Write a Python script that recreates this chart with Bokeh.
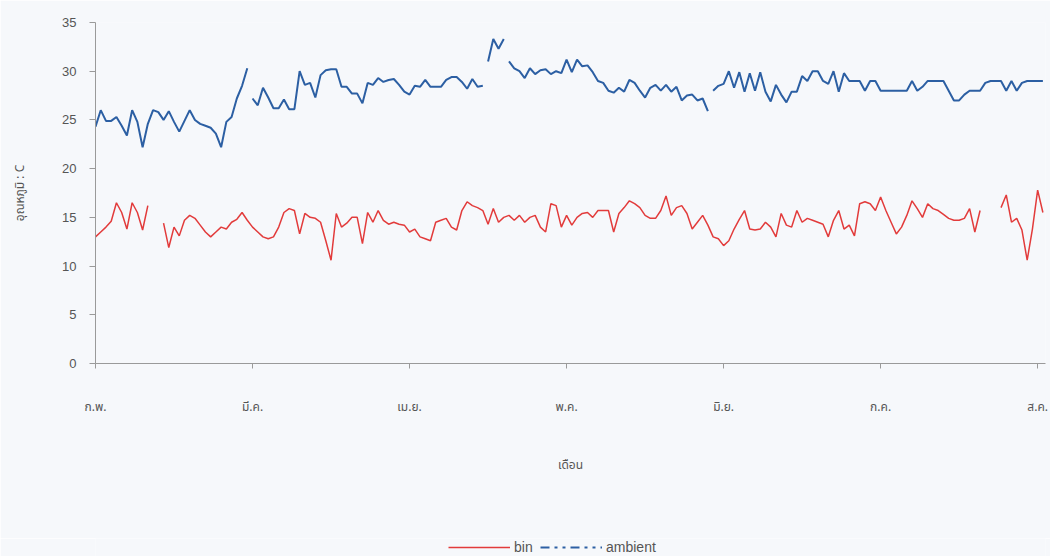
from bokeh.plotting import figure
from bokeh.models import Legend, LegendItem, FixedTicker, Range1d
from bokeh.layouts import column
from bokeh.embed import file_html
from bokeh.resources import INLINE

# ---------------- data ----------------
month_labels = ["ก.พ.", "มี.ค.", "เม.ย.", "พ.ค.", "มิ.ย.", "ก.ค.", "ส.ค."]
month_ticks = [0, 30, 60, 90, 120, 150, 180]
y_ticks = [0, 5, 10, 15, 20, 25, 30, 35]

N = float("nan")
bin_temp = [
    13.0, 13.5, 14.0, 14.6, 16.5, 15.5, 13.8, 16.5, 15.5, 13.7,
    16.2, N, N, 14.4, 11.9, 14.0, 13.1, 14.7, 15.2, 14.9,
    14.2, 13.5, 13.0, 13.5, 14.0, 13.8, 14.5, 14.8, 15.5, 14.7,
    14.0, 13.5, 13.0, 12.8, 13.0, 14.0, 15.5, 15.9, 15.7, 13.3,
    15.4, 15.0, 14.9, 14.5, 12.6, 10.6, 15.4, 14.0, 14.4, 15.0,
    15.0, 12.3, 15.5, 14.5, 15.7, 14.7, 14.3, 14.5, 14.3, 14.2,
    13.5, 13.8, 13.0, 12.8, 12.6, 14.5, 14.7, 14.9, 14.0, 13.7,
    15.7, 16.6, 16.2, 16.0, 15.7, 14.3, 15.9, 14.5, 15.0, 15.2,
    14.7, 15.2, 14.5, 15.0, 15.2, 14.0, 13.5, 16.4, 16.2, 14.0,
    15.2, 14.2, 15.0, 15.4, 15.5, 15.0, 15.7, 15.7, 15.7, 13.5,
    15.4, 16.0, 16.7, 16.4, 16.0, 15.2, 14.9, 14.9, 15.7, 17.2,
    15.2, 16.0, 16.2, 15.4, 13.8, 14.5, 15.2, 14.2, 13.0, 12.8,
    12.1, 12.6, 13.8, 14.8, 15.7, 13.8, 13.7, 13.8, 14.5, 14.0,
    13.0, 15.4, 14.2, 14.0, 15.7, 14.5, 14.9, 14.7, 14.5, 14.3,
    13.0, 14.7, 15.7, 13.8, 14.2, 13.1, 16.4, 16.6, 16.4, 15.7,
    17.1, 15.7, 14.5, 13.3, 14.0, 15.2, 16.7, 15.9, 15.0, 16.4,
    15.9, 15.7, 15.3, 14.9, 14.7, 14.7, 14.9, 15.9, 13.5, 15.7,
    N, N, N, 16.0, 17.3, 14.5, 14.9, 13.7, 10.6, 13.8,
    17.8, 15.5,
]

ambient_temp = [
    24.3, 26.0, 24.9, 24.9, 25.3, 24.4, 23.4, 26.0, 24.8, 22.2,
    24.6, 26.0, 25.8, 25.0, 25.9, 24.8, 23.8, 24.9, 26.0, 25.0,
    24.6, 24.4, 24.2, 23.6, 22.2, 24.8, 25.3, 27.2, 28.5, 30.3,
    27.2, 26.5, 28.3, 27.3, 26.2, 26.2, 27.1, 26.1, 26.1, 30.0,
    28.6, 28.8, 27.3, 29.6, 30.1, 30.2, 30.2, 28.4, 28.4, 27.7,
    27.7, 26.7, 28.8, 28.6, 29.3, 28.9, 29.1, 29.2, 28.6, 27.9,
    27.6, 28.5, 28.4, 29.1, 28.4, 28.4, 28.4, 29.1, 29.4, 29.4,
    28.9, 28.2, 29.2, 28.4, 28.5, 31.0, 33.3, 32.3, 33.3, 31.0,
    30.3, 30.0, 29.3, 30.3, 29.7, 30.1, 30.2, 29.7, 30.0, 29.8,
    31.2, 29.9, 31.2, 30.5, 30.6, 29.9, 29.0, 28.8, 28.0, 27.8,
    28.3, 27.9, 29.1, 28.8, 28.0, 27.3, 28.3, 28.6, 28.0, 28.6,
    27.9, 28.4, 27.0, 27.5, 27.6, 27.0, 27.2, 25.9, 28.0, 28.5,
    28.7, 30.0, 28.3, 29.9, 27.9, 29.8, 28.0, 29.9, 27.9, 26.9,
    28.6, 27.6, 26.8, 27.9, 27.9, 29.5, 29.0, 30.0, 30.0, 29.0,
    28.7, 30.0, 27.9, 29.8, 29.0, 29.0, 29.0, 28.0, 29.0, 29.0,
    28.0, 28.0, 28.0, 28.0, 28.0, 28.0, 29.0, 28.0, 28.4, 29.0,
    29.0, 29.0, 29.0, 28.0, 27.0, 27.0, 27.6, 28.0, 28.0, 28.0,
    28.8, 29.0, 29.0, 29.0, 28.0, 29.0, 28.0, 28.8, 29.0, 29.0,
    29.0, 29.0,
]
# where the dashed ambient line shows a break (start index of each piece)
ambient_breaks = [30, 75, 79, 118]
series_names = ["bin", "ambient"]

days = list(range(len(bin_temp)))

# ---------------- figure ----------------
BG = "#f6f8fb"
AX = "#9a9a9a"
TXT = "#555555"
FONT = "Noto Sans Thai, Noto Sans, DejaVu Sans, sans-serif"
RED = "#e23b3b"
BLUE = "#2c5fa3"
AMB_DASH = "9 5 3 5 3 5"

p = figure(width=1050, height=538, output_backend="svg", toolbar_location=None,
           x_range=Range1d(0, 181.5), y_range=Range1d(0, 35),
           min_border_left=95, min_border_right=5, min_border_top=22,
           min_border_bottom=175)
p.background_fill_color = BG
p.border_fill_color = BG
p.border_fill_alpha = 1
p.outline_line_color = None
p.grid.grid_line_color = None

# bin series
p.line(days, bin_temp, line_color=RED, line_width=1.5)

# ambient series, split into dash pieces
xs, ys = [], []
starts = [0] + ambient_breaks
ends = ambient_breaks + [len(ambient_temp)]
for s, e in zip(starts, ends):
    xs.append(days[s:e])
    ys.append(ambient_temp[s:e])
p.multi_line(xs, ys, line_color=BLUE, line_width=2)

# axes
xa = p.xaxis[0]
xa.ticker = FixedTicker(ticks=month_ticks)
xa.major_label_overrides = {t: l for t, l in zip(month_ticks, month_labels)}
xa.minor_tick_line_color = None
xa.axis_line_color = AX
xa.major_tick_line_color = AX
xa.major_tick_in = 0
xa.major_tick_out = 5
xa.major_label_standoff = 29
xa.major_label_text_font = FONT
xa.major_label_text_font_size = "12px"
xa.major_label_text_color = TXT
xa.axis_label = "เดือน"
xa.axis_label_text_font = FONT
xa.axis_label_text_font_size = "12px"
xa.axis_label_text_font_style = "normal"
xa.axis_label_text_color = TXT
xa.axis_label_standoff = 37

ya = p.yaxis[0]
ya.ticker = FixedTicker(ticks=y_ticks)
ya.minor_tick_line_color = None
ya.axis_line_color = AX
ya.major_tick_line_color = AX
ya.major_tick_in = 0
ya.major_tick_out = 6
ya.major_label_standoff = 13
ya.major_label_text_font = "Liberation Sans"
ya.major_label_text_font_size = "13px"
ya.major_label_text_color = TXT
ya.axis_label = "อุณหภูมิ : C"
ya.axis_label_text_font = FONT
ya.axis_label_text_font_size = "12px"
ya.axis_label_text_font_style = "normal"
ya.axis_label_text_color = TXT
ya.axis_label_standoff = 30

# ---------------- legend strip ----------------
# the series are drawn again here, far outside this strip's ranges,
# only so that the legend has renderers to draw its samples from
lf = figure(width=1050, height=18, output_backend="svg", toolbar_location=None,
            x_range=Range1d(0, 1), y_range=Range1d(-2, -1),
            min_border=0, x_axis_type=None, y_axis_type=None)
lf.background_fill_color = BG
lf.border_fill_color = BG
lf.outline_line_color = None
lf.grid.grid_line_color = None
r1 = lf.line(days, bin_temp, line_color=RED, line_width=1.5)
r2 = lf.line(days, ambient_temp, line_color=BLUE, line_width=2, line_dash=AMB_DASH)
legend = Legend(items=[LegendItem(label=series_names[0], renderers=[r1]),
                       LegendItem(label=series_names[1], renderers=[r2])],
                orientation="horizontal", location=(353, 1),
                border_line_color=None, background_fill_alpha=0,
                label_text_font="Liberation Sans", label_text_font_size="14px",
                label_text_color=TXT, glyph_width=62, glyph_height=14,
                label_standoff=4, spacing=6, padding=0, margin=0,
                label_height=14)
lf.add_layout(legend, "center")

open("out.html", "w").write(file_html(column(p, lf, spacing=0), INLINE))
